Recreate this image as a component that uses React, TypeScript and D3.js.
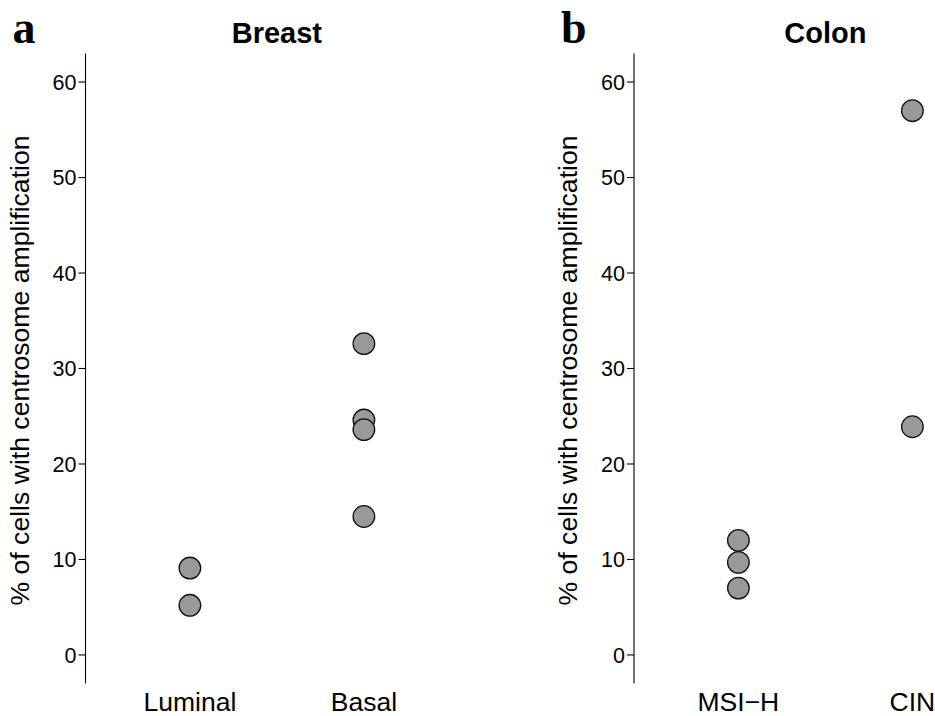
import React from "react";
import * as d3 from "d3";

const W = 935;
const H = 716;

const breastCategories = ["Luminal", "Basal"];
const breastLuminal = [9.1, 5.2];
const breastBasal = [32.6, 24.6, 23.6, 14.5];

const colonCategories = ["MSI\u2212H", "CIN"];
const colonMSIH = [12.0, 9.7, 7.0];
const colonCIN = [57.0, 23.9];

const yTicks = [0, 10, 20, 30, 40, 50, 60];
const yLimits = [0, 60];
const yTitle = "% of cells with centrosome amplification";

type PanelProps = {
  letter: string;
  title: string;
  categories: string[];
  series: number[][];
  axisX: number;
};

function Panel({ letter, title, categories, series, axisX }: PanelProps) {
  const expand = (yLimits[1] - yLimits[0]) * 0.05;
  const y = d3
    .scaleLinear()
    .domain([yLimits[0] - expand, yLimits[1] + expand])
    .range([683.6, 53.4]);
  const x = d3
    .scalePoint<string>()
    .domain(categories)
    .range([axisX, axisX + 382.8])
    .padding(0.6);
  const [y0, y1] = y.range();
  const midY = (y0 + y1) / 2;
  const font = "'Liberation Sans', Arial, Helvetica, sans-serif";
  return (
    <g>
      <text
        x={axisX - 73}
        y={43}
        fontFamily="'Liberation Serif', 'Times New Roman', serif"
        fontWeight="bold"
        fontSize={46}
        fill="#000"
      >
        {letter}
      </text>
      <text
        x={(axisX + axisX + 382.8) / 2}
        y={43}
        textAnchor="middle"
        fontFamily={font}
        fontWeight="bold"
        fontSize={29}
        fill="#000"
      >
        {title}
      </text>
      <line x1={axisX} x2={axisX} y1={y0} y2={y1} stroke="#000" strokeWidth={1.1} />
      {yTicks.map((t) => (
        <g key={t}>
          <line x1={axisX - 7} x2={axisX} y1={y(t)} y2={y(t)} stroke="#000" strokeWidth={1.1} />
          <text
            x={axisX - 9}
            y={y(t)}
            dy="0.36em"
            textAnchor="end"
            fontFamily={font}
            fontSize={21.5}
            fill="#000"
          >
            {t}
          </text>
        </g>
      ))}
      <text
        transform={`translate(${axisX - 57},${midY + 2}) rotate(-90)`}
        textAnchor="middle"
        fontFamily={font}
        fontSize={26.6}
        fill="#000"
      >
        {yTitle}
      </text>
      {categories.map((c) => (
        <text
          key={c}
          x={x(c)}
          y={711}
          textAnchor="middle"
          fontFamily={font}
          fontSize={26.5}
          fill="#000"
        >
          {c}
        </text>
      ))}
      {series.map((vals, i) =>
        vals.map((v, j) => (
          <circle
            key={`${i}-${j}`}
            cx={x(categories[i])}
            cy={y(v)}
            r={10.8}
            fill="#999999"
            stroke="#111"
            strokeWidth={1.3}
          />
        ))
      )}
    </g>
  );
}

export default function App() {
  return (
    <svg
      width={W}
      height={H}
      viewBox={`0 0 ${W} ${H}`}
      style={{ position: "absolute", left: 0, top: 0, background: "#fff" }}
    >
      <rect width={W} height={H} fill="#fff" />
      <Panel
        letter="a"
        title="Breast"
        categories={breastCategories}
        series={[breastLuminal, breastBasal]}
        axisX={85.5}
      />
      <Panel
        letter="b"
        title="Colon"
        categories={colonCategories}
        series={[colonMSIH, colonCIN]}
        axisX={634}
      />
    </svg>
  );
}
